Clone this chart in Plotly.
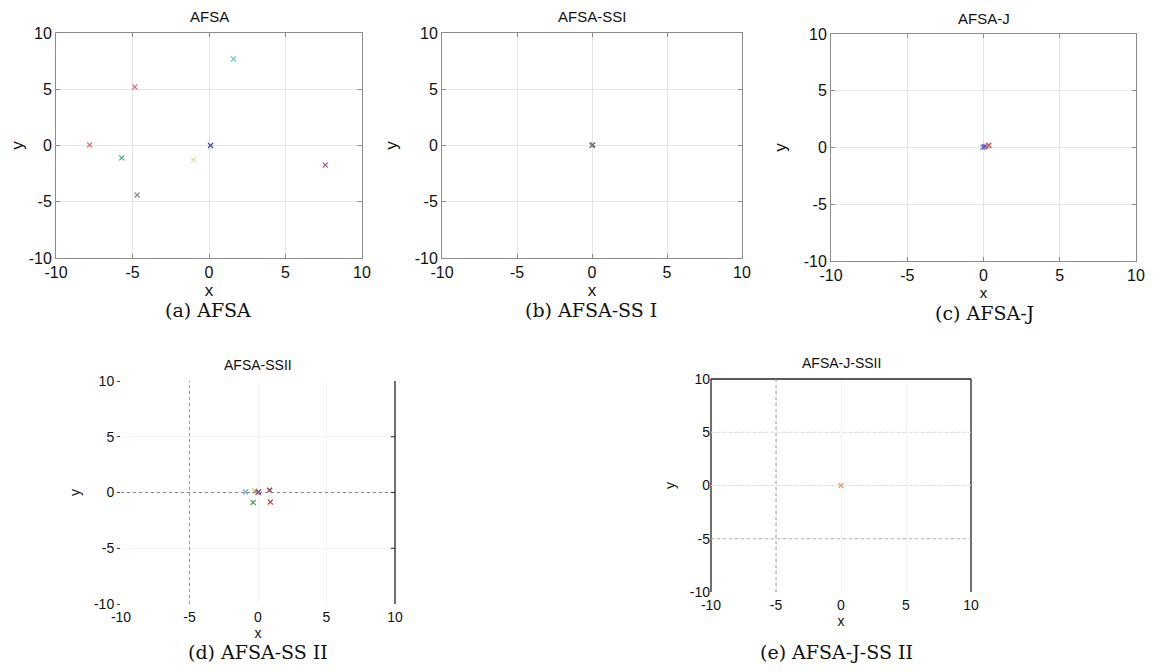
import plotly.graph_objects as go

# Page is 1158x672; the HTML body has an 8px margin, so the figure is drawn 16px smaller
PAGE_W, PAGE_H = 1158, 672
OFF = 8
W, H = PAGE_W - 2 * OFF, PAGE_H - 2 * OFF

# ---------------- data ----------------
tick_vals = [-10, -5, 0, 5, 10]
tick_text = ["-10", "-5", "0", "5", "10"]

panel_titles = ["AFSA", "AFSA-SSI", "AFSA-J", "AFSA-SSII", "AFSA-J-SSII"]
captions = ["(a) AFSA", "(b) AFSA-SS I", "(c) AFSA-J", "(d) AFSA-SS II", "(e) AFSA-J-SS II"]

# (a) AFSA
a_x = [1.6, -4.85, -7.8, -5.7, 0.1, -1.0, -4.7, 7.6]
a_y = [7.7, 5.2, 0.05, -1.1, 0.0, -1.3, -4.4, -1.75]
a_c = ["#55c8c8", "#e87070", "#e86060", "#40a070", "#3a3ad0", "#e0e090", "#8a8a98", "#a05090"]

# (b) AFSA-SS I
b_x = [0.05, 0.0]
b_y = [0.05, 0.0]
b_c = ["#555566", "#777788"]

# (c) AFSA-J
c_x = [-0.05, 0.05, 0.15, 0.3, 0.35]
c_y = [0.0, 0.05, 0.1, 0.15, 0.2]
c_c = ["#7aa0e0", "#3a3ad0", "#8a60c0", "#e09060", "#d06060"]

# (d) AFSA-SS II
d_x = [-0.9, -0.25, 0.05, 0.0, 0.85, -0.35, 0.9]
d_y = [0.05, 0.15, 0.05, 0.0, 0.2, -0.9, -0.85]
d_c = ["#60b0c0", "#d0c060", "#3a3ad0", "#9050b0", "#a03040", "#40a060", "#b05050"]

# (e) AFSA-J-SS II
e_x = [0.0]
e_y = [0.0]
e_c = ["#e0a070"]

# ---------------- layout geometry (page pixels) ----------------
boxes = [
    (56, 362, 33, 258),
    (442, 742, 33, 258),
    (831, 1136, 34, 261),
    (121, 395, 381, 604),
    (711, 971, 379, 592),
]

def dx(px):
    return (px - OFF) / W

def dy(py):
    return 1 - (py - OFF) / H

fig = go.Figure()

series = [(a_x, a_y, a_c), (b_x, b_y, b_c), (c_x, c_y, c_c), (d_x, d_y, d_c), (e_x, e_y, e_c)]
for i, (xs, ys, cs) in enumerate(series):
    n = "" if i == 0 else str(i + 1)
    fig.add_trace(go.Scatter(
        x=xs, y=ys, mode="markers",
        marker=dict(symbol="x-thin", size=5, color=cs, line=dict(width=1.2, color=cs)),
        xaxis="x" + n, yaxis="y" + n, showlegend=False, hoverinfo="x+y",
    ))

font_ax = "Liberation Sans, Arial, sans-serif"
font_cap = "DejaVu Serif, Liberation Serif, serif"

layout = dict(
    width=W, height=H, margin=dict(l=0, r=0, t=0, b=0, autoexpand=False),
    paper_bgcolor="white", plot_bgcolor="white",
    showlegend=False,
)

annotations = []
shapes = []

for i, (x0, x1, y0, y1) in enumerate(boxes):
    n = "" if i == 0 else str(i + 1)
    big = i < 3
    tsize = 16 if big else 14
    common = dict(
        range=[-10, 10], tickvals=tick_vals, ticktext=tick_text,
        tickfont=dict(family=font_ax, size=tsize, color="#111"),
        zeroline=False, fixedrange=True, automargin=False,
    )
    if big:
        xa = dict(common, domain=[dx(x0), dx(x1)], anchor="y" + n,
                  showgrid=True, gridcolor="#e4e4e4", gridwidth=1,
                  showline=True, linecolor="#8c8c8c", linewidth=1, mirror="ticks",
                  ticks="inside", ticklen=4, tickcolor="#8c8c8c",
                  title=dict(text="x", font=dict(family=font_ax, size=17 if i < 2 else 15, color="#111"),
                             standoff=0))
        ya = dict(common, domain=[dy(y1), dy(y0)], anchor="x" + n,
                  showgrid=True, gridcolor="#e4e4e4", gridwidth=1,
                  showline=True, linecolor="#8c8c8c", linewidth=1, mirror="ticks",
                  ticks="inside", ticklen=4, tickcolor="#8c8c8c",
                  title=dict(text="y", font=dict(family=font_ax, size=17, color="#111"), standoff=12))
    else:
        xa = dict(common, domain=[dx(x0), dx(x1)], anchor="y" + n,
                  showgrid=True, gridcolor="#f2f2f2", gridwidth=1,
                  showline=False, ticks="", ticklabelstandoff=3,
                  title=dict(text="x", font=dict(family=font_ax, size=14, color="#111"), standoff=2))
        ya = dict(common, domain=[dy(y1), dy(y0)], anchor="x" + n,
                  showgrid=True, gridcolor="#f2f2f2", gridwidth=1,
                  showline=False,
                  ticks="outside" if i == 3 else "", ticklen=3, tickcolor="#444",
                  title=dict(text="y", font=dict(family=font_ax, size=14, color="#111"), standoff=10))
    layout["xaxis" + n] = xa
    layout["yaxis" + n] = ya

    # panel title
    annotations.append(dict(
        text=panel_titles[i], x=(dx(x0) + dx(x1)) / 2, y=dy(y0 - 16),
        xref="paper", yref="paper", showarrow=False, yanchor="middle", xanchor="center",
        font=dict(family=font_ax, size=15 if big else 14, color="#111"),
    ))

# captions
cap_pos = [(208, 310), (591, 310), (984, 313), (258, 652), (836, 652)]
for (cx, cy), t in zip(cap_pos, captions):
    annotations.append(dict(
        text=t, x=dx(cx), y=dy(cy), xref="paper", yref="paper", showarrow=False,
        yanchor="middle", xanchor="center",
        font=dict(family=font_cap, size=19, color="#111"),
    ))

# (d) decorations: dotted reference lines and right border
shapes.append(dict(type="line", xref="x4", yref="y4 domain", x0=tick_vals[1], x1=tick_vals[1], y0=0, y1=1,
                   line=dict(color="#9a9a9a", width=1, dash="dot")))
shapes.append(dict(type="line", xref="x4 domain", yref="y4", x0=0, x1=1, y0=tick_vals[2], y1=tick_vals[2],
                   line=dict(color="#8a8a8a", width=1, dash="dot")))
shapes.append(dict(type="line", xref="x4 domain", yref="y4 domain", x0=1, x1=1, y0=0, y1=1,
                   line=dict(color="#222", width=1.3)))
for tv in tick_vals[1:4]:
    shapes.append(dict(type="line", xref="x4 domain", yref="y4", x0=0.985, x1=1, y0=tv, y1=tv,
                       line=dict(color="#222", width=1)))

# (e) decorations: box on left/top/right, dotted lines
shapes.append(dict(type="line", xref="x5 domain", yref="y5 domain", x0=0, x1=0, y0=0, y1=1,
                   line=dict(color="#222", width=1.3)))
shapes.append(dict(type="line", xref="x5 domain", yref="y5 domain", x0=1, x1=1, y0=0, y1=1,
                   line=dict(color="#222", width=1.3)))
shapes.append(dict(type="line", xref="x5 domain", yref="y5 domain", x0=0, x1=1, y0=1, y1=1,
                   line=dict(color="#222", width=1.3)))
shapes.append(dict(type="line", xref="x5", yref="y5 domain", x0=tick_vals[1], x1=tick_vals[1], y0=0, y1=1,
                   line=dict(color="#9a9a9a", width=1, dash="dot")))
shapes.append(dict(type="line", xref="x5 domain", yref="y5", x0=0, x1=1, y0=tick_vals[1], y1=tick_vals[1],
                   line=dict(color="#b5b5b5", width=1, dash="dot")))
for tv in [tick_vals[2], tick_vals[3]]:
    shapes.append(dict(type="line", xref="x5 domain", yref="y5", x0=0, x1=1, y0=tv, y1=tv,
                       line=dict(color="#dcdcdc", width=1, dash="dot")))

layout["annotations"] = annotations
layout["shapes"] = shapes
fig.update_layout(**layout)
fig.write_html("out.html")
